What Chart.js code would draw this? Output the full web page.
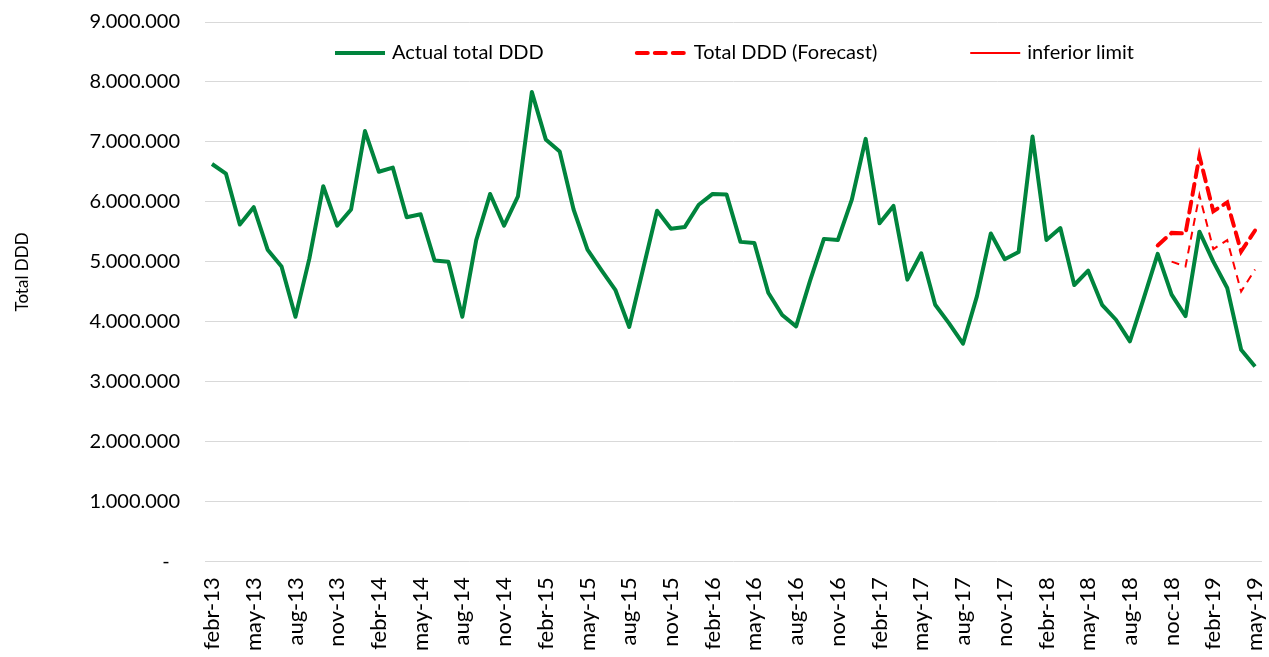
<!DOCTYPE html>
<html>
<head>
<meta charset="utf-8">
<title>Total DDD</title>
<script src="https://cdn.jsdelivr.net/npm/chart.js@4.4.0/dist/chart.umd.min.js"></script>
<style>
  html, body { margin: 0; padding: 0; background: #fff; }
  #wrap { width: 1269px; height: 657px; }
</style>
</head>
<body>
<div id="wrap"><canvas id="myChart"></canvas></div>
<script>
'use strict';

// Data (monthly, febr-13 .. may-19)

let monthNames = ['jan', 'febr', 'mar', 'apr', 'may', 'jun', 'jul', 'aug', 'sep', 'oct', 'nov', 'dec'];

// labels that are actually printed on the axis (every 3rd month)
let tickLabels = ['febr-13', 'may-13', 'aug-13', 'nov-13', 'febr-14', 'may-14', 'aug-14', 'nov-14',
  'febr-15', 'may-15', 'aug-15', 'nov-15', 'febr-16', 'may-16', 'aug-16', 'nov-16',
  'febr-17', 'may-17', 'aug-17', 'nov-17', 'febr-18', 'may-18', 'aug-18', 'noc-18',
  'febr-19', 'may-19'];

let actualDDD = [
  6630000, 6470000, 5620000, 5910000, 5200000, 4920000, 4080000, 5050000, 6260000, 5600000,
  5870000, 7180000, 6500000, 6570000, 5740000, 5790000, 5020000, 5000000, 4080000, 5360000,
  6130000, 5600000, 6090000, 7830000, 7040000, 6840000, 5870000, 5200000, 4860000, 4530000,
  3910000, 4880000, 5850000, 5550000, 5580000, 5950000, 6130000, 6120000, 5330000, 5310000,
  4480000, 4110000, 3920000, 4680000, 5380000, 5360000, 6030000, 7050000, 5640000, 5930000,
  4700000, 5140000, 4280000, 3970000, 3630000, 4420000, 5470000, 5040000, 5160000, 7090000,
  5360000, 5560000, 4610000, 4850000, 4280000, 4030000, 3670000, 4390000, 5130000, 4450000,
  4090000, 5500000, 5000000, 4560000, 3530000, 3250000
];

// forecast starts at oct-18 (index 68)
let forecastDDD = [5270000, 5480000, 5470000, 6760000, 5840000, 5990000, 5170000, 5520000];
let forecastStart = 68;

// inferior limit starts at nov-18 (index 69)
let inferiorLimit = [5000000, 4920000, 6110000, 5210000, 5360000, 4500000, 4870000];
let inferiorStart = 69;

let yTicks = [0, 1000000, 2000000, 3000000, 4000000, 5000000, 6000000, 7000000, 8000000, 9000000];


// build category list + padded series

let categories = [];
for (let i = 0; i < actualDDD.length; i++) {
  let m = (1 + i) % 12;
  let yr = 13 + Math.floor((1 + i) / 12);
  categories.push(monthNames[m] + '-' + yr);
}

function padSeries(values, start) {
  let out = [];
  for (let i = 0; i < categories.length; i++) {
    let j = i - start;
    out.push(j >= 0 && j < values.length ? values[j] : null);
  }
  return out;
}

function formatDots(v) {
  return String(v).replace(/\B(?=(\d{3})+(?!\d))/g, '.');
}

const green = '#00843d';
const red = '#ff0000';
const fontFamily = 'Lato, "Open Sans", sans-serif';

// legend drawn inside the plot area, like the original
let legendItems = [
  { text: 'Actual total DDD', color: green, width: 4, dash: [] },
  { text: 'Total DDD (Forecast)', color: red, width: 4, dash: [11, 7] },
  { text: 'inferior limit', color: red, width: 2, dash: [] }
];

const insideLegend = {
  id: 'insideLegend',
  afterDraw(chart) {
    const ctx = chart.ctx;
    const area = chart.chartArea;
    const sampleW = 50;
    const gap = 7;
    const spacing = 93;
    ctx.save();
    ctx.font = '20px ' + fontFamily;
    let widths = legendItems.map(it => sampleW + gap + ctx.measureText(it.text).width);
    let total = widths.reduce((a, b) => a + b, 0) + spacing * (legendItems.length - 1);
    let x = (area.left + area.right) / 2 + 1 - total / 2;
    let y = area.top + 31;
    ctx.textBaseline = 'middle';
    ctx.textAlign = 'left';
    legendItems.forEach((it, i) => {
      ctx.beginPath();
      ctx.strokeStyle = it.color;
      ctx.lineWidth = it.width;
      ctx.setLineDash(it.dash);
      ctx.lineCap = it.dash.length ? 'round' : 'butt';
      ctx.moveTo(x, y);
      ctx.lineTo(x + sampleW, y);
      ctx.stroke();
      ctx.setLineDash([]);
      ctx.fillStyle = '#000';
      ctx.fillText(it.text, x + sampleW + gap, y);
      x += widths[i] + spacing;
    });
    ctx.restore();
  }
};

const data = {
  labels: categories,
  datasets: [{
    label: 'Actual total DDD',
    data: actualDDD,
    borderColor: green,
    backgroundColor: green,
    borderWidth: 4,
    pointRadius: 0,
    tension: 0,
    borderJoinStyle: 'round',
    order: 3
  }, {
    label: 'Total DDD (Forecast)',
    data: padSeries(forecastDDD, forecastStart),
    borderColor: red,
    backgroundColor: red,
    borderWidth: 4,
    borderDash: [11, 7],
    borderCapStyle: 'round',
    pointRadius: 0,
    tension: 0,
    spanGaps: false,
    order: 1
  }, {
    label: 'inferior limit',
    data: padSeries(inferiorLimit, inferiorStart),
    borderColor: red,
    backgroundColor: red,
    borderWidth: 2,
    borderDash: [8, 6],
    pointRadius: 0,
    tension: 0,
    spanGaps: false,
    order: 2
  }]
};

const config = {
  type: 'line',
  data: data,
  options: {
    responsive: true,
    maintainAspectRatio: false,
    animation: false,
    layout: {
      padding: { top: 22, right: 7, bottom: -2, left: 0 }
    },
    plugins: {
      legend: { display: false },
      tooltip: { enabled: false }
    },
    scales: {
      x: {
        offset: true,
        grid: { display: false },
        border: { display: false },
        // the rotated last label should not shrink the plot on the right
        afterFit: function (axis) {
          axis.paddingLeft = 0;
          axis.paddingRight = 0;
        },
        ticks: {
          autoSkip: false,
          minRotation: 90,
          maxRotation: 90,
          padding: 8,
          color: '#000',
          font: { family: fontFamily, size: 22 },
          callback: function (value, index) {
            return index % 3 === 0 ? tickLabels[index / 3] : '';
          }
        }
      },
      y: {
        min: yTicks[0],
        max: yTicks[yTicks.length - 1],
        afterBuildTicks: function (axis) {
          axis.ticks = yTicks.map(v => ({ value: v }));
        },
        afterFit: function (axis) {
          axis.paddingTop = 0;
          axis.paddingBottom = 0;
        },
        grid: { color: '#d9d9d9', lineWidth: 1, drawTicks: false },
        border: { display: false },
        ticks: {
          padding: 25,
          color: '#000',
          font: { family: fontFamily, size: 20 },
          callback: function (v) {
            return v === 0 ? '-  ' : formatDots(v);
          }
        },
        title: {
          display: true,
          // leading spaces push the title up a bit, as in the original
          text: '         Total DDD',
          color: '#000',
          font: { family: fontFamily, size: 17 },
          padding: { top: 12, bottom: 32 }
        }
      }
    }
  },
  plugins: [insideLegend]
};

const myChart = new Chart(document.getElementById('myChart'), config);
</script>
</body>
</html>
